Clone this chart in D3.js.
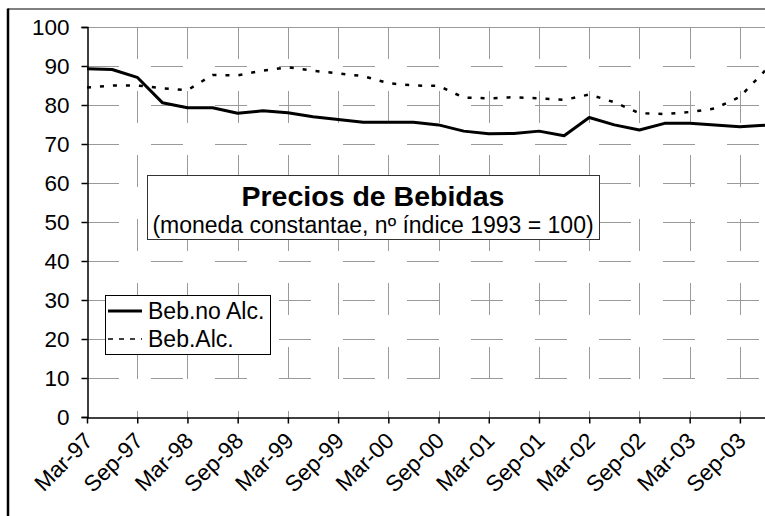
<!DOCTYPE html>
<html>
<head>
<meta charset="utf-8">
<script src="https://cdn.jsdelivr.net/npm/d3@7/dist/d3.min.js"></script>
<style>
  html, body { margin: 0; padding: 0; background: #fff; }
  svg { display: block; font-family: "Liberation Sans", Arial, sans-serif; }
</style>
</head>
<body>
<svg id="chart" width="765" height="516"></svg>
<script>
// Quarterly price index, constant currency, 1993 = 100
const quarters = [
  "Mar-97","Jun-97","Sep-97","Dec-97",
  "Mar-98","Jun-98","Sep-98","Dec-98",
  "Mar-99","Jun-99","Sep-99","Dec-99",
  "Mar-00","Jun-00","Sep-00","Dec-00",
  "Mar-01","Jun-01","Sep-01","Dec-01",
  "Mar-02","Jun-02","Sep-02","Dec-02",
  "Mar-03","Jun-03","Sep-03","Dec-03"
];
const bebNoAlc = [89.3, 89.1, 87.1, 80.6, 79.3, 79.3, 77.9, 78.5,
                  78.0, 77.0, 76.3, 75.6, 75.6, 75.6, 74.9, 73.3,
                  72.6, 72.7, 73.3, 72.1, 76.8, 74.9, 73.6, 75.3,
                  75.3, 74.9, 74.4, 74.8];
const bebAlc   = [84.5, 85.0, 85.0, 84.3, 83.8, 87.7, 87.6, 88.8,
                  89.7, 88.8, 88.1, 87.4, 85.6, 85.0, 84.9, 81.9,
                  81.7, 82.0, 81.7, 81.3, 82.7, 80.7, 77.9, 77.7,
                  78.2, 79.1, 82.1, 88.8];
const yTicks = [0, 10, 20, 30, 40, 50, 60, 70, 80, 90, 100];
const xTickLabels = quarters.filter((q, i) => i % 2 === 0);
const seriesNames = ["Beb.no Alc.", "Beb.Alc."];
const titleText = "Precios de Bebidas";
const subtitleText = "(moneda constantae, nº índice 1993 = 100)";

const svg = d3.select("#chart");
const plotL = 87, plotR = 765, plotT = 27, plotB = 417;

const x = d3.scalePoint().domain(quarters).range([plotL, plotR]);
const y = d3.scaleLinear().domain([0, 100]).range([plotB, plotT]);

// Outer frame (only left and top edges fall inside the view)
svg.append("line").attr("x1", 8).attr("x2", 8).attr("y1", 8.5).attr("y2", 516)
  .attr("stroke", "#000").attr("stroke-width", 2.5);
svg.append("line").attr("x1", 8).attr("x2", 765).attr("y1", 9).attr("y2", 9)
  .attr("stroke", "#000").attr("stroke-width", 1);

// Grid
const grid = svg.append("g").attr("stroke", "#9a9a9a").attr("stroke-width", 1).attr("fill", "none");
grid.selectAll("line.h").data(yTicks.filter(v => v > 0)).join("line")
  .attr("class", "h")
  .attr("x1", plotL).attr("x2", plotR)
  .attr("y1", d => Math.round(y(d)) + 0.5).attr("y2", d => Math.round(y(d)) + 0.5)
  .attr("stroke-dasharray", d => d === 100 ? null : "32,32");
grid.selectAll("line.v").data(xTickLabels.slice(1)).join("line")
  .attr("class", "v")
  .attr("x1", d => Math.round(x(d)) + 0.5).attr("x2", d => Math.round(x(d)) + 0.5)
  .attr("y1", plotT).attr("y2", plotB)
  .attr("stroke-dasharray", "32,32");

// Y axis
const yAxis = d3.axisLeft(y).tickValues(yTicks).tickSize(6).tickPadding(12);
const gy = svg.append("g").attr("transform", `translate(${plotL + 0.5},0)`).call(yAxis);
gy.select(".domain").attr("stroke", "#000").attr("stroke-width", 1.5);
gy.selectAll(".tick line").attr("stroke", "#000").attr("stroke-width", 1.5);
gy.selectAll(".tick text").attr("font-size", 22.5).attr("fill", "#000")
  .attr("font-family", "Liberation Sans, Arial, sans-serif");

// X axis
const xAxis = d3.axisBottom(x).tickValues(xTickLabels).tickSize(6).tickSizeOuter(0).tickFormat("");
const gx = svg.append("g").attr("transform", `translate(0,${plotB + 0.5})`).call(xAxis);
gx.select(".domain").attr("stroke", "#000").attr("stroke-width", 1.5);
gx.selectAll(".tick line").attr("stroke", "#000").attr("stroke-width", 1.5);
svg.append("g").selectAll("text").data(xTickLabels).join("text")
  .attr("transform", d => `translate(${x(d) - 4},${plotB + 14}) rotate(-45)`)
  .attr("text-anchor", "end")
  .attr("dy", "0.7em")
  .attr("font-size", 22.5)
  .text(d => d);

// Series lines
const line = d3.line().x((d, i) => x(quarters[i])).y(d => y(d));
svg.append("path").datum(bebAlc).attr("d", line)
  .attr("fill", "none").attr("stroke", "#000").attr("stroke-width", 2.5)
  .attr("stroke-dasharray", "4,9");
svg.append("path").datum(bebNoAlc).attr("d", line)
  .attr("fill", "none").attr("stroke", "#000").attr("stroke-width", 3)
  .attr("stroke-linejoin", "round");

// Title box
const tb = svg.append("g");
tb.append("rect").attr("x", 147.5).attr("y", 175.5).attr("width", 452).attr("height", 64)
  .attr("fill", "#fff").attr("stroke", "#333").attr("stroke-width", 1);
tb.append("text").attr("x", 373).attr("y", 206).attr("text-anchor", "middle")
  .attr("font-size", 28.5).attr("font-weight", "bold").text(titleText);
tb.append("text").attr("x", 373).attr("y", 233).attr("text-anchor", "middle")
  .attr("font-size", 23).text(subtitleText);

// Legend
const lg = svg.append("g");
lg.append("rect").attr("x", 105.5).attr("y", 295.5).attr("width", 165).attr("height", 59)
  .attr("fill", "#fff").attr("stroke", "#000").attr("stroke-width", 1);
const legendRows = [
  { name: seriesNames[0], width: 3, dash: null, y: 311 },
  { name: seriesNames[1], width: 1.5, dash: "5,6", y: 339 }
];
legendRows.forEach(r => {
  lg.append("line").attr("x1", 108).attr("x2", 142).attr("y1", r.y).attr("y2", r.y)
    .attr("stroke", "#000").attr("stroke-width", r.width).attr("stroke-dasharray", r.dash);
  lg.append("text").attr("x", 148).attr("y", r.y).attr("dy", "0.35em")
    .attr("font-size", 23).text(r.name);
});
</script>
</body>
</html>
